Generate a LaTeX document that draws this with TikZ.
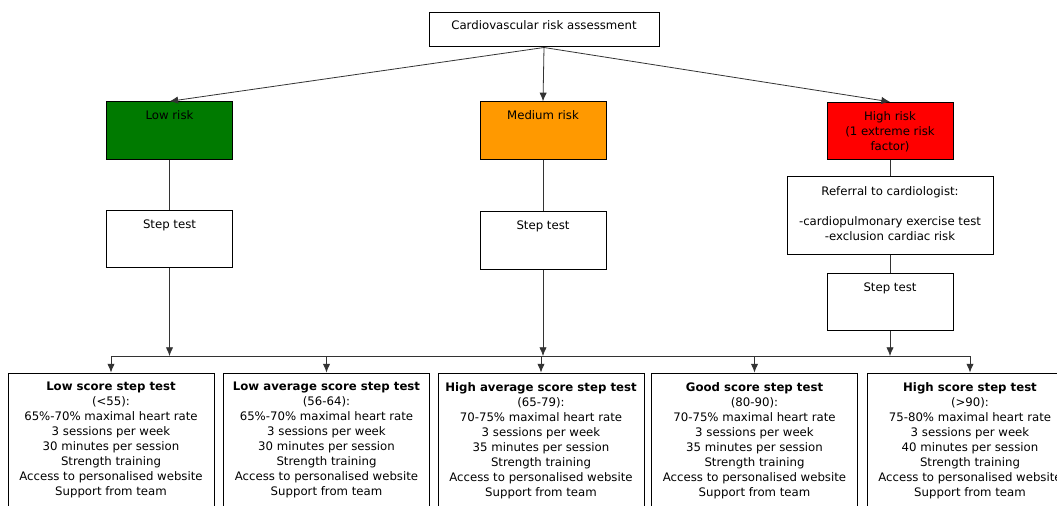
\documentclass[tikz,border=0pt]{standalone}
\usepackage{fontspec}
\setmainfont{DejaVu Sans}
\usetikzlibrary{arrows.meta}

\definecolor{lowgreen}{RGB}{0,122,0}
\definecolor{medorange}{RGB}{255,153,0}
\definecolor{highred}{RGB}{255,0,0}

\tikzset{
  riskbox/.style={minimum width=94.5pt, minimum height=43pt},
  scorebox/.style={minimum width=154.5pt, minimum height=108.75pt},
  arrow/.style={-{Latex[length=6.5pt,width=5.5pt]}}
}

\begin{document}
\begin{tikzpicture}[x=.75pt, y=-.75pt, font=\fontsize{8.8pt}{11.25pt}\selectfont]

      \useasboundingbox (0,0) rectangle (1057,506);

      \begin{scope}[every node/.style={rectangle, draw, line width=.75pt, inner sep=0pt}]
        \node[minimum width=172.5pt, minimum height=25.5pt] (1) at (544,30) {};
        \node[riskbox, fill=lowgreen]  (2) at (169.5,130.5) {};
        \node[riskbox, fill=medorange] (3) at (543,130.5) {};
        \node[riskbox, fill=highred]   (4) at (890,131) {};
        \node[riskbox] (5) at (169.5,239) {};
        \node[riskbox] (6) at (543,240.5) {};
        \node[minimum width=154.5pt, minimum height=57.75pt] (7) at (890,215.5) {};
        \node[riskbox] (8) at (890,302) {};
        \node[scorebox] (9)  at (111,445.5) {};
        \node[scorebox] (10) at (326.5,445.5) {};
        \node[scorebox] (11) at (541,445.5) {};
        \node[scorebox] (12) at (754.5,445.5) {};
        \node[scorebox] (13) at (970,445.5) {};
      \end{scope}

      \begin{scope}[every node/.style={anchor=north, align=center, inner sep=0pt}]
        \node (1t) at ([yshift=-5.5pt]1.north) {Cardiovascular risk assessment};
        \node (2t) at ([yshift=-7pt]2.north) {Low risk};
        \node (3t) at ([yshift=-7pt]3.north) {Medium risk};
        \node (4t) at ([yshift=-7pt]4.north) {High risk\\(1 extreme risk\\factor)};
        \node (5t) at ([yshift=-7pt]5.north) {Step test};
        \node (6t) at ([yshift=-7pt]6.north) {Step test};
        \node (7t) at ([yshift=-7pt]7.north) {Referral to cardiologist:\\ {} \\-cardiopulmonary exercise test\\-exclusion cardiac risk};
        \node (8t) at ([yshift=-7pt]8.north) {Step test};
        \node (9t) at ([yshift=-7pt]9.north) {\textbf{Low score step test}\\(<55):\\65\%-70\% maximal heart rate\\3 sessions per week\\30 minutes per session\\Strength training\\Access to personalised website\\Support from team};
        \node (10t) at ([yshift=-7pt]10.north) {\textbf{Low average score step test}\\(56-64):\\65\%-70\% maximal heart rate\\3 sessions per week\\30 minutes per session\\Strength training\\Access to personalised website\\Support from team};
        \node (11t) at ([yshift=-7pt]11.north) {\textbf{High average score step test}\\(65-79):\\70-75\% maximal heart rate\\3 sessions per week\\35 minutes per session\\Strength training\\Access to personalised website\\Support from team};
        \node (12t) at ([yshift=-7pt]12.north) {\textbf{Good score step test}\\(80-90):\\70-75\% maximal heart rate\\3 sessions per week\\35 minutes per session\\Strength training\\Access to personalised website\\Support from team};
        \node (13t) at ([yshift=-7pt]13.north) {\textbf{High score step test}\\(>90):\\75-80\% maximal heart rate\\3 sessions per week\\40 minutes per session\\Strength training\\Access to personalised website\\Support from team};
      \end{scope}

      \coordinate (bar) at (0,356);

      \begin{scope}[line width=.6pt, draw=black!80]
        \path (1.south) edge[arrow] (2.north);
        \path (1.south) edge[arrow] (3.north);
        \path (1.south) edge[arrow] (4.north);
        \path (2) edge (5);
        \path (3) edge (6);
        \path (4) edge (7);
        \path (7) edge (8);
        \path (5.south) edge[arrow] (5.south |- bar);
        \path (6.south) edge[arrow] (6.south |- bar);
        \path (8.south) edge[arrow] (8.south |- bar);
        \path (9.north |- bar) edge (13.north |- bar);
        \foreach \n in {9,...,13}
          \path (\n.north |- bar) edge[arrow] (\n.north);
      \end{scope}

    \end{tikzpicture}
\end{document}
